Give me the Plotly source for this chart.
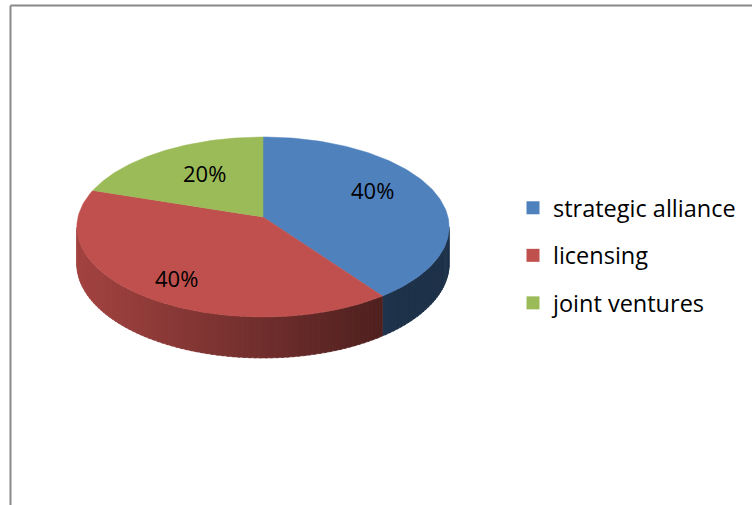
import numpy as np
import plotly.graph_objects as go

# --- data -------------------------------------------------------------
categories = ["strategic alliance", "licensing", "joint ventures"]
shares = [40, 40, 20]
colors = ["#4F81BD", "#C0504D", "#9BBB59"]

# --- 3D pie geometry (pixel-space axes) ------------------------------
W, H = 752, 505
CX, CY = 263, 217          # projected centre of the top face
RX, RY = 185, 88.9         # ellipse radii before perspective
K = 0.111                  # perspective strength (near edge looks bigger)
DEPTH = 36.4               # thickness of the disc
FONT = "Open Sans"

# where the percentage labels sit
label_xy = [(372, 190), (176, 278), (204, 173)]


def proj(theta_deg):
    """Point on the rim, angle measured clockwise from 12 o'clock."""
    t = np.radians(theta_deg)
    u, v = np.sin(t), -np.cos(t)
    s = 1.0 / (1.0 - K * v)
    return CX + RX * u * s, CY + RY * v * s, s


def hex_rgb(h):
    h = h.lstrip("#")
    return tuple(int(h[i:i + 2], 16) for i in (0, 2, 4))


def shade(hexcol, x):
    # side walls get darker towards the right
    f = 0.85 + (0.41 - 0.85) * (x - 78) / (383 - 78)
    f = min(max(f, 0.39), 0.9)
    r, g, b = hex_rgb(hexcol)
    return f"rgb({int(r * f)},{int(g * f)},{int(b * f)})"


total = float(sum(shares))
bounds = np.concatenate([[0], np.cumsum(shares)]) / total * 360.0

fig = go.Figure()

# visible side wall spans between the two horizontal extremes of the rim
th_lo = np.degrees(np.arccos(-K))
th_hi = 360.0 - th_lo

for i, col in enumerate(colors):
    a0, a1 = max(bounds[i], th_lo), min(bounds[i + 1], th_hi)
    if a1 <= a0:
        continue
    n = max(2, int((a1 - a0) / 1.5))
    edges = np.linspace(a0, a1, n + 1)
    for j in range(n):
        e0, e1 = edges[j], min(edges[j + 1] + 0.6, a1)
        ts = np.linspace(e0, e1, 4)
        xt, yt, st = proj(ts)
        xb, yb = xt[::-1], (yt + DEPTH * st)[::-1]
        xs = np.concatenate([xt, xb, xt[:1]])
        ys = np.concatenate([yt, yb, yt[:1]])
        c = shade(col, float(np.mean(xt)))
        fig.add_trace(go.Scatter(
            x=xs, y=ys, mode="lines", fill="toself", fillcolor=c,
            line=dict(color=c, width=0.6), hoverinfo="skip", showlegend=False))

# top faces
for i, col in enumerate(colors):
    ts = np.linspace(bounds[i], bounds[i + 1], 120)
    xr, yr, _ = proj(ts)
    xs = np.concatenate([[CX], xr, [CX]])
    ys = np.concatenate([[CY], yr, [CY]])
    fig.add_trace(go.Scatter(
        x=xs, y=ys, mode="lines", fill="toself", fillcolor=col,
        line=dict(color=col, width=0.5), hoverinfo="skip", showlegend=False))

# percentage labels
for (lx, ly), v in zip(label_xy, shares):
    fig.add_annotation(x=lx, y=ly, xref="x", yref="y", showarrow=False,
                       text=f"{v / total:.0%}",
                       font=dict(family=FONT, size=22, color="#000000"))

# legend entries
for i, (name, col) in enumerate(zip(categories, colors)):
    fig.add_trace(go.Scatter(
        x=[None], y=[None], mode="markers", name=name, legendgroup=name,
        marker=dict(symbol="square", size=13, color=col, line=dict(width=0))))

fig.update_layout(
    width=W, height=H,
    margin=dict(l=0, r=0, t=0, b=0),
    paper_bgcolor="white", plot_bgcolor="white",
    xaxis=dict(range=[0, W], visible=False, fixedrange=True),
    yaxis=dict(range=[H, 0], visible=False, fixedrange=True),
    showlegend=True,
    legend=dict(x=513 / W, y=1 - 186 / H, xanchor="left", yanchor="top",
                font=dict(family=FONT, size=23.5, color="#000000"),
                traceorder="grouped", tracegroupgap=14,
                bgcolor="rgba(0,0,0,0)"),
    shapes=[
        dict(type="line", xref="paper", yref="paper",
             x0=10.5 / W, x1=1, y0=1 - 5.5 / H, y1=1 - 5.5 / H,
             line=dict(color="#898989", width=2)),
        dict(type="line", xref="paper", yref="paper",
             x0=10.5 / W, x1=10.5 / W, y0=0, y1=1 - 5.5 / H,
             line=dict(color="#898989", width=2)),
    ],
)

fig.write_html("out.html")
